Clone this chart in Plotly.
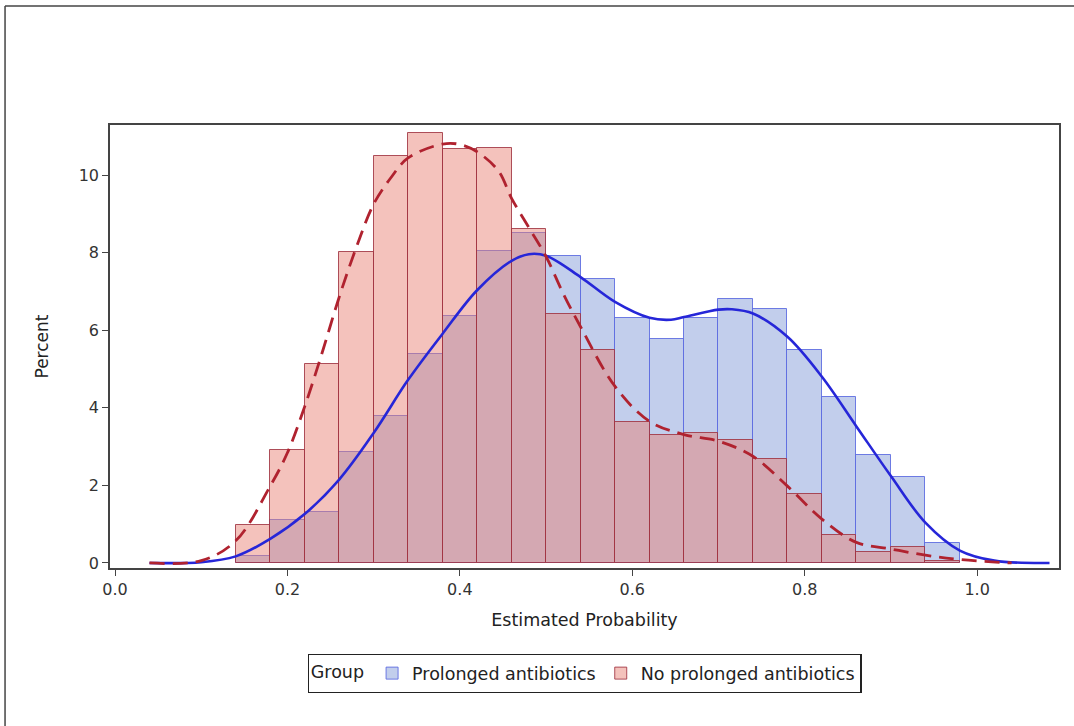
import plotly.graph_objects as go

# Histogram bins (width 0.04), centers from 0.16 to 0.96
bin_centers = [0.16, 0.20, 0.24, 0.28, 0.32, 0.36, 0.40, 0.44, 0.48, 0.52, 0.56,
               0.60, 0.64, 0.68, 0.72, 0.76, 0.80, 0.84, 0.88, 0.92, 0.96]
prolonged_pct = [0.17, 1.10, 1.32, 2.86, 3.80, 5.38, 6.36, 8.05, 8.50, 7.91, 7.32,
                 6.32, 5.77, 6.32, 6.81, 6.55, 5.50, 4.29, 2.79, 2.21, 0.51]
no_prolonged_pct = [0.97, 2.90, 5.12, 8.01, 10.50, 11.09, 10.66, 10.70, 8.62, 6.43, 5.49,
                    3.63, 3.31, 3.35, 3.16, 2.69, 1.77, 0.72, 0.27, 0.42, 0.05]

# Density curves
blue_x = [0.04, 0.10, 0.14, 0.18, 0.22, 0.26, 0.30, 0.34, 0.38, 0.42, 0.46, 0.48,
          0.50, 0.54, 0.58, 0.62, 0.645, 0.66, 0.70, 0.715, 0.74, 0.78, 0.82, 0.86,
          0.90, 0.94, 0.98, 1.02, 1.084]
blue_y = [0.0, 0.02, 0.17, 0.62, 1.26, 2.15, 3.35, 4.72, 5.91, 7.03, 7.79, 7.96,
          7.92, 7.37, 6.73, 6.32, 6.27, 6.34, 6.53, 6.54, 6.43, 5.83, 4.80, 3.52,
          2.24, 1.04, 0.32, 0.06, 0.0]
red_x = [0.04, 0.10, 0.14, 0.18, 0.20, 0.22, 0.24, 0.26, 0.28, 0.30, 0.32, 0.34,
         0.38, 0.40, 0.42, 0.445, 0.46, 0.48, 0.50, 0.52, 0.54, 0.58, 0.62, 0.66,
         0.70, 0.74, 0.78, 0.82, 0.86, 0.90, 0.94, 0.98, 1.04]
red_y = [0.0, 0.06, 0.57, 1.98, 2.84, 4.03, 5.40, 6.85, 8.14, 9.25, 9.93, 10.44,
         10.80, 10.79, 10.60, 10.10, 9.40, 8.65, 7.90, 6.94, 6.09, 4.55, 3.65, 3.31,
         3.14, 2.75, 1.98, 1.13, 0.53, 0.36, 0.20, 0.09, 0.0]

x_ticks = [0.0, 0.2, 0.4, 0.6, 0.8, 1.0]
y_ticks = [0, 2, 4, 6, 8, 10]

FONT = "DejaVu Sans, Verdana, sans-serif"

fig = go.Figure()
fig.add_trace(go.Bar(
    x=bin_centers, y=prolonged_pct, width=0.04, name="Prolonged antibiotics",
    marker=dict(color="rgba(125,150,215,0.47)",
                line=dict(color="rgba(95,110,225,0.9)", width=1)),
))
fig.add_trace(go.Bar(
    x=bin_centers, y=no_prolonged_pct, width=0.04, name="No prolonged antibiotics",
    marker=dict(color="rgba(232,128,115,0.48)",
                line=dict(color="rgba(160,50,65,0.85)", width=1)),
))
fig.add_trace(go.Scatter(
    x=blue_x, y=blue_y, mode="lines", line=dict(color="#2626d8", width=2.6, shape="spline"),
    showlegend=False, hoverinfo="skip",
))
fig.add_trace(go.Scatter(
    x=red_x, y=red_y, mode="lines",
    line=dict(color="#b0222f", width=2.8, dash="15px,8px", shape="spline"),
    showlegend=False, hoverinfo="skip",
))

fig.update_layout(
    width=1074, height=726,
    margin=dict(l=110, r=15, t=125, b=158),
    barmode="overlay", bargap=0,
    paper_bgcolor="white", plot_bgcolor="white",
    font=dict(family=FONT, size=17.5, color="#222"),
    legend=dict(
        orientation="h", x=0.5, xanchor="center", y=-0.194, yanchor="top",
        bordercolor="#222", borderwidth=1.3, bgcolor="white",
        title=dict(text="Group", side="left", font=dict(size=17.5)),
        font=dict(size=17.5), traceorder="normal", tracegroupgap=0,
    ),
    xaxis=dict(
        range=[-0.0058, 1.095], tickvals=x_ticks, tickformat=".1f",
        showgrid=False, zeroline=False, showline=True, mirror=True,
        linecolor="#444", linewidth=1.6, ticks="outside", ticklen=6,
        tickcolor="#444", tickfont=dict(size=16, color="#333"),
        title=dict(text="Estimated Probability", font=dict(size=17.5), standoff=16),
    ),
    yaxis=dict(
        range=[-0.13, 11.29], tickvals=y_ticks,
        showgrid=False, zeroline=False, showline=True, mirror=True,
        linecolor="#444", linewidth=1.6, ticks="outside", ticklen=6,
        tickcolor="#444", tickfont=dict(size=16, color="#333"),
        title=dict(text="Percent", font=dict(size=17), standoff=26),
    ),
    shapes=[
        dict(type="line", xref="paper", yref="paper", x0=-0.1106, x1=1.02,
             y0=1.2686, y1=1.2686, line=dict(color="#444", width=1.5)),
        dict(type="line", xref="paper", yref="paper", x0=-0.1106, x1=-0.1106,
             y0=1.2686, y1=-0.36, line=dict(color="#444", width=1.5)),
    ],
)

fig.write_html("out.html", config={"displayModeBar": False},
               post_script="document.body.style.margin='0';")
